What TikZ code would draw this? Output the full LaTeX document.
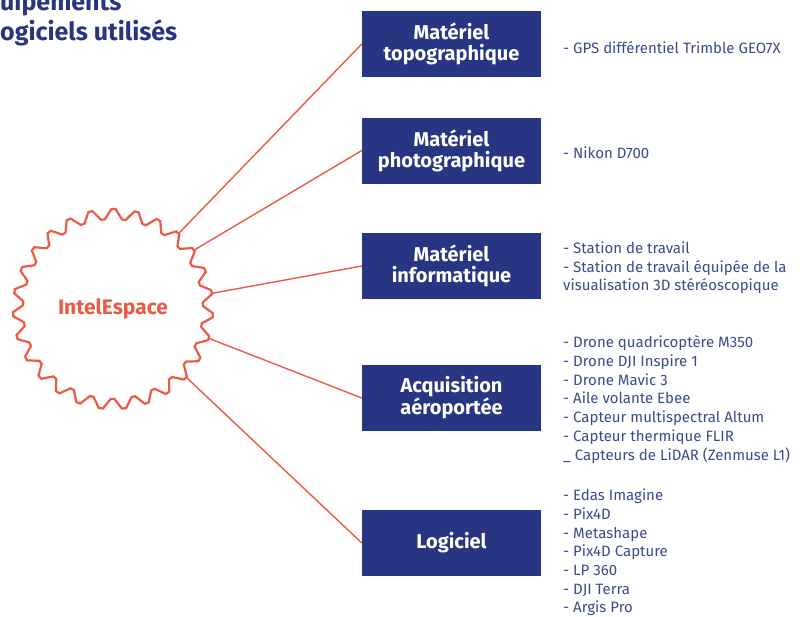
\documentclass[tikz,border=0pt]{standalone}
\usepackage{fontspec}
\setmainfont{Fira Sans}
\definecolor{navy}{HTML}{283583}
\definecolor{coral}{HTML}{EC5A45}
\definecolor{listc}{HTML}{3B4A8E}
\tikzset{
  catbox/.style={fill=navy, text=white, minimum width=179pt, minimum height=66pt,
    inner sep=0pt, align=center, font=\fontsize{20}{21}\selectfont\bfseries},
  listtxt/.style={text=listc, anchor=west, align=left, inner sep=0pt,
    font=\fontsize{15}{18.7}\selectfont},
  conn/.style={draw=coral, line width=1.4pt},
  ring/.style={draw=coral, line width=2.2pt, line join=miter, miter limit=4},
  titletxt/.style={text=navy, anchor=base west, inner sep=0pt,
    font=\fontsize{25}{30}\selectfont\bfseries}
}
\begin{document}
\begin{tikzpicture}[x=1pt,y=-1pt]
\useasboundingbox (0,0) rectangle (800,616);
% title (cut by the left edge)
\node[titletxt] (t1) at (0,10) {uipements};
\node[titletxt] (t2) at (0,40) {ogiciels utilisés};
% central zigzag ring
\node[circle, minimum size=200pt, inner sep=0pt, outer sep=0pt,
      text=coral, font=\fontsize{21}{24}\selectfont\bfseries] (ctr) at (113,309) {IntelEspace};
\begin{scope}[shift={(ctr)}]
\draw[ring] ({-9.7-1.2}:100) \foreach \i in {0,...,26} {
  -- ({-9.7+13.3333*\i+1.2}:100) -- ({-9.7+13.3333*\i+6.6667-1.2}:90)
  -- ({-9.7+13.3333*\i+6.6667+1.2}:90) -- ({-9.7+13.3333*(\i+1)-1.2}:100) } -- cycle;
\end{scope}
% category boxes
\node[catbox] (b1) at (451.5,44) {Matériel\\topographique};
\node[catbox] (b2) at (451.5,150.5) {Matériel\\photographique};
\node[catbox] (b3) at (451.5,266) {Matériel\\informatique};
\node[catbox] (b4) at (451.5,398) {Acquisition\\aéroportée};
\node[catbox] (b5) at (451.5,543) {Logiciel};
% connectors
\draw[conn] (ctr.49.7) -- (b1.west);
\draw[conn] (ctr.36.4) -- (b2.west);
\draw[conn] (ctr.9.7) -- (b3.west);
\draw[conn] (ctr.-17) -- (b4.west);
\draw[conn] (ctr.-43.6) -- (b5.west);
% lists
\node[listtxt] (l1) at (563,48) {- GPS différentiel Trimble GEO7X};
\node[listtxt] (l2) at (563,153) {- Nikon D700};
\node[listtxt] (l3) at (563,268) {- Station de travail\\- Station de travail équipée de la\\visualisation 3D stéréoscopique};
\node[listtxt] (l4) at (563,399.5) {- Drone quadricoptère M350\\- Drone DJI Inspire 1\\- Drone Mavic 3\\- Aile volante Ebee\\- Capteur multispectral Altum\\- Capteur thermique FLIR\\\_ Capteurs de LiDAR (Zenmuse L1)};
\node[listtxt] (l5) at (563,552.5) {- Edas Imagine\\- Pix4D\\- Metashape\\- Pix4D Capture\\- LP 360\\- DJI Terra\\- Argis Pro};
\end{tikzpicture}
\end{document}
